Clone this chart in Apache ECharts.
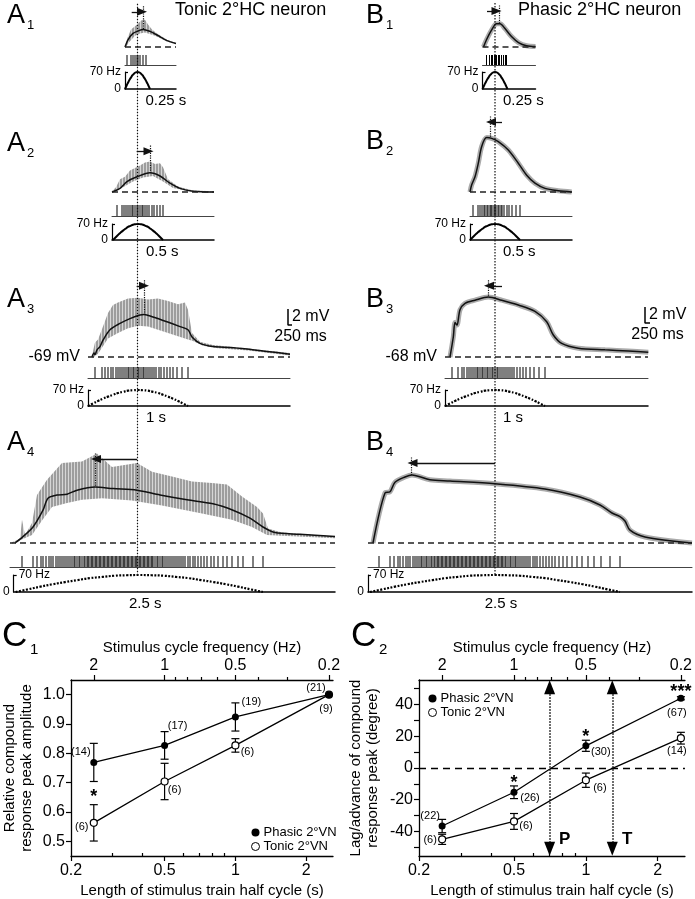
<!DOCTYPE html>
<html>
<head>
<meta charset="utf-8">
<title>Tonic and phasic 2°HC neurons</title>
<script src="https://cdn.jsdelivr.net/npm/echarts@6.0.0/dist/echarts.min.js"></script>
<style>
  html, body { margin: 0; padding: 0; background: #fff; }
  #chart { width: 695px; height: 899px; }
</style>
</head>
<body>
<div id="chart"></div>
<script>
const FONT = '"Liberation Sans", Arial, Helvetica, sans-serif';

// stimulus train half cycles (rows 1-4) and the labels under each rate profile
const halfCycles = [0.25, 0.5, 1, 2.5];
const halfCycleLabels = ['0.25 s', '0.5 s', '1 s', '2.5 s'];
// rate profile of one half cycle: fraction of the half cycle -> Hz
const stimPhase = [0, 0.05, 0.1, 0.15, 0.2, 0.25, 0.3, 0.35, 0.4, 0.45, 0.5, 0.55, 0.6, 0.65, 0.7, 0.75, 0.8, 0.85, 0.9, 0.95, 1];
const stimRate = [0, 11, 22, 32, 41, 49, 57, 62, 67, 69, 70, 69, 67, 62, 57, 49, 41, 32, 22, 11, 0];

// averaged compound responses, [time (s), mV above rest]
const a1Black = [[0, 0], [0.03, 0.9], [0.08, 1.7], [0.13, 2.0], [0.18, 2.2], [0.25, 1.95], [0.32, 1.5], [0.42, 0.8], [0.51, 0.45]];
const a2Black = [[-0.01, 0], [0.07, 0.45], [0.14, 1.3], [0.24, 1.9], [0.37, 2.4], [0.47, 2.0], [0.57, 1.1], [0.67, 0.45], [0.8, 0.1], [1.01, 0]];
const a3Black = [[0.04, 0], [0.06, 0.5], [0.07, 0.3], [0.09, 0.9], [0.12, 1.3], [0.15, 2.1], [0.22, 3.4], [0.32, 4.2], [0.42, 4.8], [0.52, 5.25], [0.56, 5.3], [0.65, 5.0], [0.79, 4.4], [0.92, 3.8], [1.0, 3.4], [1.04, 2.5], [1.12, 1.7], [1.25, 1.3], [1.42, 1.2], [1.59, 1.0], [1.79, 0.7], [2.02, 0.35]];
const a4Black = [[0.03, 0], [0.11, 0.8], [0.21, 2.0], [0.31, 4.1], [0.36, 5.6], [0.45, 6.0], [0.55, 6.1], [0.65, 6.6], [0.83, 7.0], [1.01, 6.8], [1.25, 6.6], [1.48, 6.0], [1.75, 5.4], [2.01, 4.9], [2.21, 4.1], [2.38, 3.1], [2.51, 2.0], [2.63, 1.3], [2.88, 1.1], [3.23, 0.8]];
const b1Black = [[0.01, 0], [0.04, 0.9], [0.09, 2.1], [0.14, 2.9], [0.175, 2.9], [0.225, 2.3], [0.29, 1.3], [0.36, 0.55], [0.44, 0.15], [0.53, 0.05]];
const b2Black = [[0, 0], [0.017, 0.9], [0.05, 1.9], [0.083, 3.6], [0.117, 5.7], [0.167, 6.8], [0.217, 6.7], [0.283, 6.3], [0.383, 5.25], [0.483, 3.6], [0.567, 2.1], [0.65, 1.1], [0.75, 0.45], [0.883, 0.15], [1.017, 0]];
const b3Black = [[0.05, 0], [0.083, 2.5], [0.1, 4.3], [0.12, 4.0], [0.15, 5.9], [0.2, 6.7], [0.3, 7.1], [0.433, 7.5], [0.567, 7.1], [0.733, 6.5], [0.9, 5.7], [1.017, 4.4], [1.083, 2.75], [1.167, 1.7], [1.333, 1.1], [1.6, 0.9], [1.833, 0.75], [2.033, 0.6]];
const b4Black = [[0.03, 0], [0.15, 6.25], [0.2, 6.4], [0.25, 7.6], [0.35, 8.25], [0.42, 8.5], [0.6, 7.9], [0.8, 7.75], [1.25, 7.4], [1.75, 6.75], [2.1, 5.75], [2.3, 4.75], [2.42, 3.75], [2.5, 3.3], [2.55, 2.75], [2.6, 1.6], [2.75, 0.75], [3.22, 0]];

// envelope of the raw (grey) recordings of the tonic neuron
const a1GreyHi = [[0, 0.2], [0.03, 1.3], [0.06, 2.2], [0.1, 2.6], [0.13, 2.9], [0.16, 3.3], [0.2, 3.4], [0.23, 2.8], [0.27, 2.2], [0.32, 1.7], [0.42, 0.9], [0.51, 0.5]];
const a1GreyLo = [[0, -0.2], [0.04, 0.6], [0.1, 1.4], [0.15, 1.7], [0.2, 1.8], [0.3, 1.4], [0.42, 0.7], [0.51, 0.35]];
const a2GreyHi = [[-0.01, 0.1], [0.03, 0.6], [0.07, 1.6], [0.12, 1.9], [0.17, 2.7], [0.22, 3.0], [0.27, 3.3], [0.32, 3.7], [0.37, 3.8], [0.42, 3.5], [0.47, 3.6], [0.5, 3.1], [0.55, 1.6], [0.65, 0.7], [0.8, 0.2], [1.01, 0.1]];
const a2GreyLo = [[-0.01, -0.1], [0.1, 0.6], [0.2, 1.3], [0.3, 1.8], [0.4, 2.0], [0.5, 1.3], [0.6, 0.5], [0.8, 0], [1.01, -0.1]];
const a3GreyHi = [[0.04, 0.2], [0.07, 1.8], [0.1, 2.2], [0.15, 3.8], [0.2, 5.5], [0.25, 6.5], [0.3, 6.8], [0.4, 7.3], [0.5, 7.4], [0.6, 7.2], [0.7, 7.3], [0.8, 7.0], [0.9, 6.6], [0.97, 6.8], [1.0, 5.9], [1.04, 3.0], [1.12, 1.9], [1.25, 1.5], [1.5, 1.2], [2.02, 0.5]];
const a3GreyLo = [[0.04, -0.2], [0.1, 0.4], [0.2, 2.3], [0.3, 3.0], [0.4, 3.6], [0.5, 3.9], [0.6, 3.8], [0.7, 3.4], [0.8, 3.0], [0.9, 2.6], [1.0, 2.2], [1.05, 2.0], [1.15, 1.4], [1.3, 1.1], [1.6, 0.8], [2.02, 0.2]];
const a4GreyHi = [[0.0, 0.1], [0.08, 0.5], [0.1, 2.9], [0.13, 1.0], [0.2, 2.5], [0.25, 6.0], [0.35, 7.9], [0.5, 10.0], [0.7, 10.2], [0.85, 11.2], [1.0, 9.5], [1.25, 10.0], [1.4, 8.9], [1.6, 8.3], [1.8, 7.7], [2.0, 7.5], [2.15, 7.3], [2.3, 5.8], [2.45, 4.5], [2.51, 3.7], [2.56, 1.8], [2.7, 1.3], [3.23, 0.8]];
const a4GreyLo = [[0, -0.1], [0.2, 1.0], [0.3, 2.8], [0.4, 4.5], [0.55, 5.0], [0.7, 5.4], [0.9, 5.6], [1.2, 5.3], [1.5, 4.7], [1.9, 3.7], [2.2, 2.9], [2.4, 2.0], [2.55, 1.0], [2.7, 0.9], [3.23, 0.6]];

// spike times of the afferent stimulus trains (s)
const a1Spikes = [0.02, 0.06, 0.08, 0.10, 0.12, 0.13, 0.15, 0.18, 0.21];
const a2Spikes = [0.04, 0.09, 0.11, 0.13, 0.15, 0.17, 0.19, 0.20, 0.22, 0.24, 0.25, 0.27, 0.29, 0.30, 0.32, 0.34, 0.36, 0.39, 0.41, 0.44, 0.47, 0.50];
const a3Spikes = [0.07, 0.14, 0.17, 0.20, 0.23, 0.25, 0.28, 0.30, 0.32, 0.34, 0.36, 0.38, 0.40, 0.41, 0.43, 0.45, 0.46, 0.48, 0.50, 0.51, 0.53, 0.55, 0.56, 0.58, 0.60, 0.62, 0.64, 0.66, 0.68, 0.71, 0.73, 0.76, 0.79, 0.82, 0.85, 0.89, 0.94, 1.00];
const a4Spikes = [0.10, 0.21, 0.25, 0.29, 0.31, 0.34, 0.37, 0.39, 0.41, 0.44, 0.46, 0.48, 0.50, 0.52, 0.54, 0.56, 0.58, 0.60, 0.62, 0.63, 0.65, 0.67, 0.68, 0.70, 0.72, 0.73, 0.75, 0.76, 0.77, 0.79, 0.80, 0.81, 0.83, 0.84, 0.85, 0.87, 0.88, 0.89, 0.91, 0.92, 0.93, 0.95, 0.96, 0.97, 0.99, 1.00, 1.01, 1.03, 1.04, 1.05, 1.07, 1.08, 1.09, 1.11, 1.12, 1.13, 1.15, 1.16, 1.17, 1.19, 1.20, 1.21, 1.23, 1.24, 1.25, 1.27, 1.28, 1.29, 1.31, 1.32, 1.33, 1.35, 1.36, 1.37, 1.39, 1.40, 1.41, 1.43, 1.45, 1.46, 1.48, 1.50, 1.51, 1.53, 1.55, 1.57, 1.59, 1.61, 1.63, 1.65, 1.67, 1.69, 1.71, 1.73, 1.76, 1.78, 1.81, 1.83, 1.86, 1.89, 1.92, 1.95, 1.99, 2.02, 2.06, 2.11, 2.15, 2.20, 2.26, 2.31, 2.41, 2.51];
const b1Spikes = [0.04, 0.07, 0.09, 0.10, 0.12, 0.13, 0.14, 0.16, 0.17, 0.19, 0.21, 0.23, 0.24];
const b2Spikes = [0.03, 0.08, 0.10, 0.12, 0.14, 0.15, 0.17, 0.18, 0.20, 0.21, 0.22, 0.24, 0.25, 0.26, 0.28, 0.29, 0.31, 0.32, 0.34, 0.37, 0.39, 0.42, 0.46, 0.50];
const b3Spikes = [0.07, 0.13, 0.17, 0.19, 0.22, 0.24, 0.26, 0.28, 0.30, 0.32, 0.33, 0.35, 0.37, 0.38, 0.40, 0.42, 0.43, 0.45, 0.47, 0.48, 0.50, 0.52, 0.53, 0.55, 0.57, 0.59, 0.61, 0.63, 0.65, 0.67, 0.69, 0.72, 0.75, 0.78, 0.81, 0.85, 0.89, 0.94, 1.00];
const b4Spikes = [0.09, 0.20, 0.24, 0.28, 0.30, 0.33, 0.36, 0.38, 0.40, 0.43, 0.45, 0.47, 0.49, 0.51, 0.52, 0.54, 0.56, 0.57, 0.59, 0.61, 0.62, 0.64, 0.65, 0.67, 0.68, 0.69, 0.71, 0.72, 0.73, 0.75, 0.76, 0.77, 0.79, 0.80, 0.81, 0.83, 0.84, 0.85, 0.87, 0.88, 0.89, 0.91, 0.92, 0.93, 0.95, 0.96, 0.97, 0.99, 1.00, 1.01, 1.03, 1.04, 1.05, 1.07, 1.08, 1.09, 1.11, 1.12, 1.13, 1.15, 1.16, 1.17, 1.19, 1.20, 1.21, 1.23, 1.24, 1.25, 1.27, 1.28, 1.29, 1.31, 1.32, 1.33, 1.35, 1.36, 1.38, 1.40, 1.41, 1.43, 1.45, 1.46, 1.48, 1.50, 1.52, 1.54, 1.56, 1.58, 1.60, 1.63, 1.65, 1.67, 1.70, 1.73, 1.76, 1.79, 1.82, 1.85, 1.89, 1.93, 1.97, 2.02, 2.07, 2.12, 2.18, 2.24, 2.31, 2.40, 2.50];

// response peaks and lag/advance arrows (A1..A4, B1..B4)
const peakTimes = [0.183, 0.37, 0.563, 0.83, 0.165, 0.2, 0.43, 0.415];
const peakLevels = [2.2, 2.4, 5.3, 7.0, 2.8, 6.8, 7.5, 8.5];
const arrowLevels = [4.4, 5.1, 8.9, 10.5, 4.5, 8.75, 8.9, 10.0];
const arrowStarts = [0.067, 0.237, 0.487, 1.25, 0.045, 0.32, 0.57, 1.25];
const arrowEnds = [0.17, 0.355, 0.56, 0.84, 0.14, 0.21, 0.44, 0.425];
const restingLabels = [null, null, '-69 mV', null, null, null, '-68 mV', null];
const scaleBarMv = 2, scaleBarS = 0.25;

// C1 / C2 summary data
const halfCycleX = [0.25, 0.5, 1, 2.5];
const c1Phasic = [0.769, 0.827, 0.924, 1.0];
const c1PhasicErr = [0.065, 0.047, 0.048, 0];
const c1Tonic = [0.563, 0.704, 0.827, 1.0];
const c1TonicErr = [0.062, 0.062, 0.023, 0];
const c1PhasicN = ['(14)', '(17)', '(19)', '(21)'];
const c1TonicN = ['(6)', '(6)', '(6)', '(9)'];
const c2Phasic = [-36.6, -15.3, 14.0, 44.0];
const c2PhasicErr = [4.2, 4.0, 3.5, 1.0];
const c2Tonic = [-45.0, -33.7, -7.7, 18.8];
const c2TonicErr = [3.2, 5.0, 4.5, 3.7];
const c2PhasicN = ['(22)', '(26)', '(30)', '(67)'];
const c2TonicN = ['(6)', '(6)', '(6)', '(14)'];
const c1Stars = [[0.25, 0.667, '*']];
const c2Stars = [[0.5, -6.3, '*'], [1, 23, '*'], [2.5, 51, '***']];
const zeroCrossings = [0.705, 1.29];
const zeroCrossingLabels = ['P', 'T'];

const halfTicks = [0.2, 0.5, 1, 2];
const halfMinorTicks = [0.3, 0.4, 0.6, 0.7, 0.8, 0.9];
const freqTicks = [2, 1, 0.5, 0.2];
const freqMinorTicks = [0.9, 0.8, 0.7, 0.6, 0.4, 0.3];

// ---- layout ----
const PX_PER_S = 100, PX_PER_MV = 8, V_MIN = -0.7;
const layout = [
  { x0: 125, t0: 0, t1: 0.51, base: 47, vMax: 5.4, rTop: 55, rH: 10, sTop: 72, sH: 17 },
  { x0: 113, t0: -0.01, t1: 1.01, base: 192, vMax: 6.3, rTop: 205, rH: 11, sTop: 224, sH: 16 },
  { x0: 88, t0: 0, t1: 2.02, base: 357, vMax: 9.6, rTop: 367, rH: 11, sTop: 390, sH: 16, bar: [2.0, 4.0] },
  { x0: 12, t0: -0.02, t1: 3.23, base: 543, vMax: 11.5, rTop: 556, rH: 11, sTop: 575, sH: 17 },
  { x0: 482.5, t0: 0, t1: 0.53, base: 47, vMax: 5.5, rTop: 55, rH: 10, sTop: 72, sH: 17 },
  { x0: 470, t0: 0, t1: 1.02, base: 192, vMax: 9.8, rTop: 205, rH: 11, sTop: 224, sH: 16 },
  { x0: 445, t0: 0, t1: 2.03, base: 357, vMax: 9.6, rTop: 367, rH: 11, sTop: 390, sH: 16, bar: [2.0, 4.25] },
  { x0: 370, t0: -0.02, t1: 3.22, base: 543, vMax: 11.2, rTop: 556, rH: 11, sTop: 575, sH: 17 }
];
const traces = [
  { black: a1Black, hi: a1GreyHi, lo: a1GreyLo, spikes: a1Spikes },
  { black: a2Black, hi: a2GreyHi, lo: a2GreyLo, spikes: a2Spikes },
  { black: a3Black, hi: a3GreyHi, lo: a3GreyLo, spikes: a3Spikes },
  { black: a4Black, hi: a4GreyHi, lo: a4GreyLo, spikes: a4Spikes },
  { black: b1Black, spikes: b1Spikes },
  { black: b2Black, spikes: b2Spikes },
  { black: b3Black, spikes: b3Spikes },
  { black: b4Black, spikes: b4Spikes }
];

// comb-like fill for the spiking raw traces
const comb = document.createElement('canvas');
comb.width = 3; comb.height = 4;
const combCtx = comb.getContext('2d');
combCtx.fillStyle = '#d6d6d6'; combCtx.fillRect(0, 0, 3, 4);
combCtx.fillStyle = '#9d9d9d'; combCtx.fillRect(0, 0, 2, 4);

const chart = echarts.init(document.getElementById('chart'));
const grids = [], xAxes = [], yAxes = [], series = [];
const push = (arr, o) => { arr.push(o); return arr.length - 1; };
const txt = (size, extra) => Object.assign({ fontFamily: FONT, fontSize: size, color: '#000' }, extra || {});
const hidden = { show: false };

const voltAxes = [], stimAxes = [];
layout.forEach((L, k) => {
  const tr = traces[k];
  const row = k % 4;
  const T = halfCycles[row];
  const left = L.x0 + L.t0 * PX_PER_S;
  const width = (L.t1 - L.t0) * PX_PER_S;

  // membrane potential
  const gv = push(grids, { left, width, top: L.base - L.vMax * PX_PER_MV, height: (L.vMax - V_MIN) * PX_PER_MV });
  const xv = push(xAxes, { type: 'value', gridIndex: gv, min: L.t0, max: L.t1, show: false });
  const yv = push(yAxes, {
    type: 'value', gridIndex: gv, min: V_MIN, max: L.vMax, position: 'left',
    axisLine: hidden, axisTick: hidden, splitLine: hidden,
    axisLabel: restingLabels[k]
      ? Object.assign({ customValues: [0], formatter: () => restingLabels[k], margin: 8 }, txt(16))
      : hidden
  });
  voltAxes.push([xv, yv]);

  if (tr.hi) {
    series.push({
      type: 'custom', xAxisIndex: xv, yAxisIndex: yv, data: [[0, 0]], clip: false, silent: true, z: 1,
      renderItem: (p, api) => ({
        type: 'polygon',
        shape: { points: tr.hi.concat(tr.lo.slice().reverse()).map(pt => api.coord(pt)) },
        style: { fill: { image: comb, repeat: 'repeat' } }
      })
    });
  } else {
    series.push({
      type: 'line', xAxisIndex: xv, yAxisIndex: yv, data: tr.black, smooth: 0.3, symbol: 'none',
      silent: true, z: 1, lineStyle: { color: '#ababab', width: 5 }
    });
  }
  series.push({
    type: 'line', xAxisIndex: xv, yAxisIndex: yv, data: tr.black, smooth: 0.3, symbol: 'none',
    silent: true, z: 3, lineStyle: { color: '#111', width: 1.5 },
    markLine: {
      silent: true, symbol: 'none', animation: false, label: { show: false },
      lineStyle: { type: 'dotted', color: '#111', width: 1.2 },
      data: [
        { yAxis: 0, lineStyle: { type: [6, 4], width: 1.5, color: '#222' } },
        [{ coord: [peakTimes[k], arrowLevels[k] + 0.7] }, { coord: [peakTimes[k], peakLevels[k]] }],
        [
          { coord: [arrowStarts[k], arrowLevels[k]], symbol: 'none', lineStyle: { type: 'solid', width: 1.3 } },
          { coord: [arrowEnds[k], arrowLevels[k]], symbol: 'triangle', symbolSize: [8, 10], lineStyle: { type: 'solid', width: 1.3 } }
        ]
      ]
    }
  });

  if (L.bar) {
    const [bt, bv] = L.bar;
    series.push({
      type: 'line', xAxisIndex: xv, yAxisIndex: yv, clip: false, symbol: 'none', silent: true,
      data: [[bt, bv + scaleBarMv], [bt, bv], [bt + scaleBarS, bv]], lineStyle: { color: '#000', width: 1.5 }
    });
    series.push({
      type: 'scatter', xAxisIndex: xv, yAxisIndex: yv, clip: false, symbolSize: 0, silent: true,
      itemStyle: { opacity: 1 },
      label: Object.assign({ show: true }, txt(16)),
      data: [
        { value: [bt, bv + scaleBarMv / 2], label: { formatter: scaleBarMv + ' mV', position: 'right', distance: 4 } },
        { value: [bt + scaleBarS / 2, bv], label: { formatter: scaleBarS * 1000 + ' ms', position: 'bottom', distance: 4 } }
      ]
    });
  }

  // stimulus spike raster
  const gr = push(grids, { left, width, top: L.rTop, height: L.rH });
  const xr = push(xAxes, {
    type: 'value', gridIndex: gr, min: L.t0, max: L.t1,
    axisLine: { show: true, onZero: false, lineStyle: { color: '#444', width: 1 } },
    axisTick: hidden, axisLabel: hidden, splitLine: hidden
  });
  const yr = push(yAxes, { type: 'value', gridIndex: gr, min: 0, max: 1, show: false });
  series.push({
    type: 'scatter', xAxisIndex: xr, yAxisIndex: yr, silent: true, symbol: 'rect',
    symbolSize: [1, L.rH], itemStyle: { color: '#000', opacity: 1 }, data: tr.spikes.map(t => [t, 0.5])
  });

  // stimulus rate profile
  const gs = push(grids, { left, width, top: L.sTop, height: L.sH });
  const xs = push(xAxes, {
    type: 'value', gridIndex: gs, min: L.t0, max: L.t1,
    axisLine: { show: true, onZero: false, lineStyle: { color: '#000', width: 1.5 } },
    axisTick: hidden, splitLine: hidden,
    axisLabel: Object.assign({
      customValues: [T / 2], formatter: () => halfCycleLabels[row], margin: 4,
      align: row === 3 ? 'center' : 'left', padding: row === 3 ? [0, 0, 0, 12] : [0, 0, 0, 8]
    }, txt(15))
  });
  const ys = push(yAxes, {
    type: 'value', gridIndex: gs, min: 0, max: 70, position: 'left',
    axisLine: { show: true, onZero: false, lineStyle: { color: '#000', width: 1.2 } },
    axisTick: { show: true, customValues: [70], inside: true, length: 3, lineStyle: { color: '#000', width: 1.2 } },
    splitLine: hidden,
    axisLabel: Object.assign({
      customValues: row === 3 ? [0] : [0, 70], formatter: v => (v > 35 ? '70 Hz' : '0'), margin: 4
    }, txt(12))
  });
  if (row === 3) {
    push(yAxes, {
      type: 'value', gridIndex: gs, min: 0, max: 70, position: 'left',
      axisLine: hidden, axisTick: hidden, splitLine: hidden,
      axisLabel: Object.assign({ inside: true, customValues: [70], formatter: () => '70 Hz', margin: 5 }, txt(12))
    });
  }
  stimAxes.push([xs, ys]);
  series.push({
    type: 'line', xAxisIndex: xs, yAxisIndex: ys, smooth: true, symbol: 'none', silent: true,
    data: stimPhase.map((p, i) => [p * T, stimRate[i]]),
    lineStyle: row >= 2 ? { color: '#000', width: 2.2, type: [2, 1.5] } : { color: '#000', width: 2 }
  });
});

// ---- summary plots C1, C2 ----
const nearest = (arr, v) => arr.reduce((b, a, i) => (Math.abs(Math.log(a / v)) < Math.abs(Math.log(arr[b] / v)) ? i : b), 0);
const freqX = freqTicks.map(f => 1 / (2 * f));
const freqMinorX = freqMinorTicks.map(f => 1 / (2 * f));

function responsePanel(cfg) {
  const g = push(grids, { left: cfg.left, top: 680, width: 266, height: 177 });
  const base = { type: 'log', logBase: 10, gridIndex: g, min: 0.2, max: 2.6, splitLine: hidden, minorTick: hidden };
  const tick = { color: '#000', width: 1.2 };
  const xb = push(xAxes, Object.assign({}, base, {
    position: 'bottom',
    axisLine: { show: true, onZero: false, lineStyle: { color: '#000', width: 1.3 } },
    axisTick: { customValues: halfTicks, length: 5, lineStyle: tick },
    axisLabel: Object.assign({ customValues: halfTicks, formatter: v => String(halfTicks[nearest(halfTicks, v)]), margin: 7 }, txt(16)),
    name: 'Length of stimulus train half cycle (s)', nameLocation: 'middle', nameGap: 27, nameTextStyle: txt(15)
  }));
  push(xAxes, Object.assign({}, base, {
    position: 'bottom', axisLine: { show: false, onZero: false },
    axisTick: { customValues: halfMinorTicks, inside: true, length: 3, lineStyle: tick }, axisLabel: hidden
  }));
  push(xAxes, Object.assign({}, base, {
    position: 'top',
    axisLine: { show: true, onZero: false, lineStyle: { color: '#000', width: 1.3 } },
    axisTick: { customValues: freqX, length: 5, lineStyle: tick },
    axisLabel: Object.assign({ customValues: freqX, formatter: v => String(freqTicks[nearest(freqX, v)]), margin: 6 }, txt(16)),
    name: 'Stimulus cycle frequency (Hz)', nameLocation: 'middle', nameGap: 25, nameTextStyle: txt(15)
  }));
  push(xAxes, Object.assign({}, base, {
    position: 'top', axisLine: { show: false, onZero: false },
    axisTick: { customValues: freqMinorX, length: 3, lineStyle: tick }, axisLabel: hidden
  }));
  const y = push(yAxes, {
    type: 'value', gridIndex: g, min: cfg.yMin, max: cfg.yMax, position: 'left',
    axisLine: { show: true, onZero: false, lineStyle: { color: '#000', width: 1.3 } },
    axisTick: { customValues: cfg.yTicks, length: 5, lineStyle: tick },
    axisLabel: Object.assign({ customValues: cfg.yLabels, formatter: cfg.yFmt, margin: 6 }, txt(16)),
    splitLine: hidden,
    name: cfg.yName, nameLocation: 'middle', nameGap: cfg.nameGap, nameTextStyle: txt(15, { lineHeight: 17 })
  });

  const errData = (v, e) => halfCycleX.map((x, i) => [x, v[i] - e[i], v[i] + e[i]]).filter(d => d[2] > d[1]);
  series.push({
    type: 'custom', xAxisIndex: xb, yAxisIndex: y, silent: true, z: 4, clip: false,
    data: errData(cfg.phasic, cfg.phasicErr).concat(errData(cfg.tonic, cfg.tonicErr)),
    encode: { x: 0, y: [1, 2] },
    renderItem: (p, api) => {
      const a = api.coord([api.value(0), api.value(2)]);
      const b = api.coord([api.value(0), api.value(1)]);
      const st = { stroke: '#000', lineWidth: 1.2 };
      return {
        type: 'group', children: [
          { type: 'line', shape: { x1: a[0], y1: a[1], x2: b[0], y2: b[1] }, style: st },
          { type: 'line', shape: { x1: a[0] - 4, y1: a[1], x2: a[0] + 4, y2: a[1] }, style: st },
          { type: 'line', shape: { x1: b[0] - 4, y1: b[1], x2: b[0] + 4, y2: b[1] }, style: st }
        ]
      };
    }
  });
  const pointSeries = (name, vals, ns, offs, itemStyle, z) => ({
    type: 'line', name, xAxisIndex: xb, yAxisIndex: y, z, silent: true,
    symbol: 'circle', symbolSize: 7, showAllSymbol: true, itemStyle,
    lineStyle: { color: '#000', width: 1.3 },
    label: Object.assign({ show: true, position: 'inside' }, txt(11)),
    data: halfCycleX.map((x, i) => ({ value: [x, vals[i]], label: { formatter: ns[i], offset: offs[i] } }))
  });
  const tonic = pointSeries('Tonic 2°VN', cfg.tonic, cfg.tonicN, cfg.tonicOff, { color: '#fff', borderColor: '#000', borderWidth: 1.2 }, 5);
  if (cfg.zeroLine) {
    tonic.markLine = {
      silent: true, symbol: 'none', animation: false, label: { show: false },
      lineStyle: { type: [7, 5], color: '#000', width: 1.4 }, data: [{ yAxis: 0 }]
    };
  }
  series.push(tonic);
  series.push(pointSeries('Phasic 2°VN', cfg.phasic, cfg.phasicN, cfg.phasicOff, { color: '#000' }, 6));
  series.push({
    type: 'scatter', xAxisIndex: xb, yAxisIndex: y, symbolSize: 0, silent: true, z: 7,
    itemStyle: { opacity: 1 },
    label: Object.assign({ show: true, position: 'inside', offset: [0, 5], fontWeight: 'bold' }, txt(18)),
    data: cfg.stars.map(s => ({ value: [s[0], s[1]], label: { formatter: s[2] } }))
  });
  if (cfg.crossings) {
    series.push({
      type: 'scatter', xAxisIndex: xb, yAxisIndex: y, symbolSize: 0, silent: true, z: 7,
      itemStyle: { opacity: 1 },
      label: Object.assign({ show: true, position: 'inside', offset: [15, 0], fontWeight: 'bold' }, txt(17)),
      data: cfg.crossings.map((x, i) => ({ value: [x, -45], label: { formatter: zeroCrossingLabels[i] } })),
      markLine: {
        silent: true, animation: false, label: { show: false }, symbol: ['triangle', 'triangle'], symbolSize: [11, 14],
        lineStyle: { type: 'dotted', color: '#000', width: 1.5 },
        data: cfg.crossings.map(x => [{ coord: [x, -51] }, { coord: [x, 51] }])
      }
    });
  }
}

responsePanel({
  left: 67, yMin: 0.45, yMax: 1.05,
  yTicks: [0.5, 0.6, 0.7, 0.8, 0.9, 1.0], yLabels: [0.5, 0.6, 0.7, 0.8, 0.9, 1.0], yFmt: v => v.toFixed(1),
  yName: 'Relative compound\nresponse peak amplitude', nameGap: 36,
  phasic: c1Phasic, phasicErr: c1PhasicErr, tonic: c1Tonic, tonicErr: c1TonicErr,
  phasicN: c1PhasicN, tonicN: c1TonicN,
  phasicOff: [[-13, -10], [13, -19], [16, -15], [-13, -7]],
  tonicOff: [[-12, 4], [10, 8], [12, 7], [-3, 14]],
  stars: c1Stars
});
responsePanel({
  left: 419, yMin: -55.5, yMax: 55.5,
  yTicks: [-50, -40, -30, -20, -10, 0, 10, 20, 30, 40, 50], yLabels: [-40, -20, 0, 20, 40], yFmt: v => String(Math.round(v)),
  yName: 'Lag/advance of compound\nresponse peak (degree)', nameGap: 38,
  phasic: c2Phasic, phasicErr: c2PhasicErr, tonic: c2Tonic, tonicErr: c2TonicErr,
  phasicN: c2PhasicN, tonicN: c2TonicN,
  phasicOff: [[-12, -10], [16, 6], [15, 6], [-4, 15]],
  tonicOff: [[-12, 1], [12, 5], [14, 8], [-4, 13]],
  stars: c2Stars, crossings: zeroCrossings, zeroLine: true
});

const legendBase = {
  orient: 'vertical', itemGap: 1, itemWidth: 8, itemHeight: 8, selectedMode: false,
  textStyle: txt(13, { padding: [0, 0, 0, -1] }),
  data: [
    { name: 'Phasic 2°VN', icon: 'circle', itemStyle: { color: '#000' } },
    { name: 'Tonic 2°VN', icon: 'circle', itemStyle: { color: '#fff', borderColor: '#000', borderWidth: 1 } }
  ]
};

chart.setOption({
  animation: false,
  textStyle: { fontFamily: FONT },
  grid: grids, xAxis: xAxes, yAxis: yAxes, series,
  legend: [
    Object.assign({}, legendBase, { left: 246, top: 821 }),
    Object.assign({}, legendBase, { left: 423, top: 687 })
  ]
});

// labels, headings and the dotted stimulus-peak lines (placed through the panel scales)
const gfx = [];
const letters = [
  ['A', '1', 7, 16], ['A', '2', 7, 144], ['A', '3', 7, 300], ['A', '4', 7, 443],
  ['B', '1', 366, 16], ['B', '2', 366, 142], ['B', '3', 366, 300], ['B', '4', 366, 443]
];
letters.forEach(([c, s, x, y]) => {
  gfx.push({ type: 'text', x, y, style: { text: c, fontSize: 27, fontFamily: FONT, fill: '#000', verticalAlign: 'middle' } });
  gfx.push({ type: 'text', x: x + 20, y: y + 9, style: { text: s, fontSize: 13, fontFamily: FONT, fill: '#000', verticalAlign: 'middle' } });
});
[['C', '1', 2, 636], ['C', '2', 351, 636]].forEach(([c, s, x, y]) => {
  gfx.push({ type: 'text', x, y, style: { text: c, fontSize: 35, fontFamily: FONT, fill: '#000', verticalAlign: 'middle' } });
  gfx.push({ type: 'text', x: x + 28, y: y + 14, style: { text: s, fontSize: 15, fontFamily: FONT, fill: '#000', verticalAlign: 'middle' } });
});
gfx.push({ type: 'text', x: 175, y: 10, style: { text: 'Tonic 2°HC neuron', fontSize: 18, fontFamily: FONT, fill: '#000', verticalAlign: 'middle' } });
gfx.push({ type: 'text', x: 518, y: 10, style: { text: 'Phasic 2°HC neuron', fontSize: 18, fontFamily: FONT, fill: '#000', verticalAlign: 'middle' } });

[0, 4].forEach(k => {
  const [xv, yv] = voltAxes[k];
  const top = chart.convertToPixel({ xAxisIndex: xv, yAxisIndex: yv }, [halfCycles[0] / 2, layout[k].vMax]);
  const [xs, ys] = stimAxes[k + 3];
  const bot = chart.convertToPixel({ xAxisIndex: xs, yAxisIndex: ys }, [halfCycles[3] / 2, 70]);
  gfx.push({
    type: 'line', z: 100, silent: true,
    shape: { x1: top[0], y1: top[1], x2: top[0], y2: bot[1] },
    style: { stroke: '#111', lineWidth: 1.2, lineDash: [1.5, 1.5] }
  });
});
chart.setOption({ graphic: gfx });
</script>
</body>
</html>
